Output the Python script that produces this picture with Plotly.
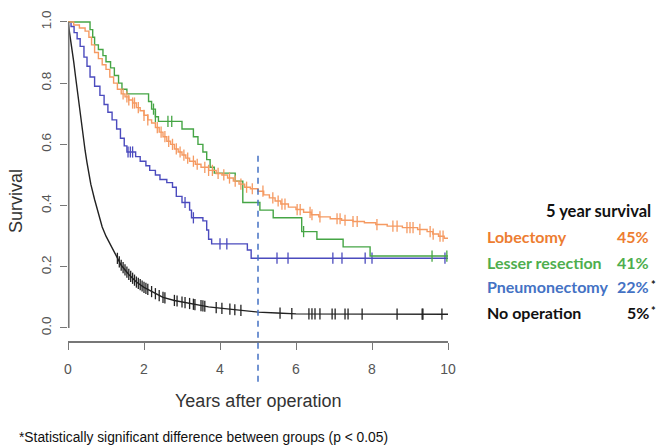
import numpy as np
import plotly.graph_objects as go

# ---------------- data ----------------
lob_t = [0, 0.15, 0.3, 0.45, 0.55, 0.62, 0.7, 0.8, 0.9, 1.0, 1.1, 1.2, 1.3, 1.4, 1.5, 1.6, 1.7, 1.8,
         1.9, 2.0, 2.1, 2.2, 2.3, 2.4, 2.5, 2.6, 2.7, 2.8, 2.9, 3.0, 3.1, 3.2, 3.35, 3.5, 3.7, 3.9,
         4.05, 4.2, 4.35, 4.5, 4.65, 4.8, 5.0, 5.15, 5.3, 5.45, 5.6, 5.8, 6.0, 6.2, 6.4, 6.6, 6.9,
         7.2, 7.5, 7.8, 8.1, 8.4, 8.8, 9.2, 9.45, 9.6, 9.75, 9.9]
lob_s = [1.0, 0.99, 0.98, 0.97, 0.95, 0.925, 0.90, 0.88, 0.86, 0.845, 0.82, 0.80, 0.78, 0.765,
         0.755, 0.745, 0.735, 0.72, 0.71, 0.695, 0.68, 0.67, 0.655, 0.64, 0.625, 0.61, 0.60, 0.585,
         0.575, 0.565, 0.555, 0.545, 0.535, 0.525, 0.515, 0.505, 0.50, 0.49, 0.48, 0.47, 0.46,
         0.455, 0.447, 0.435, 0.425, 0.415, 0.405, 0.395, 0.387, 0.378, 0.37, 0.363, 0.357, 0.352,
         0.348, 0.344, 0.338, 0.333, 0.328, 0.322, 0.315, 0.307, 0.30, 0.293]
lob_cens = [1.45, 1.55, 1.6, 1.7, 1.75, 1.85, 2.0, 2.1, 2.35, 2.45, 2.55, 2.65, 2.75, 2.85, 2.95,
            3.05, 3.15, 3.3, 3.4, 3.6, 3.7, 3.8, 3.95, 4.1, 4.25, 4.4, 4.55, 4.7, 4.85, 5.13, 5.39,
            5.53, 5.63, 5.71, 6.03, 6.11, 6.37, 6.42, 6.63, 7.08, 7.16, 7.29, 7.5, 7.61, 8.13,
            8.55, 8.66, 8.92, 9.0, 9.08, 9.26, 9.53, 9.61, 9.79, 9.87]

les_t = [0, 0.58, 0.65, 0.7, 0.8, 0.92, 1.0, 1.12, 1.22, 1.33, 1.42, 1.55, 2.12, 2.2, 2.3, 2.38,
         3.0, 3.3, 3.42, 3.55, 3.65, 3.74, 3.85, 4.4, 4.6, 5.05, 5.4, 6.15, 6.55, 7.24, 7.95]
les_s = [1.0, 0.975, 0.95, 0.925, 0.91, 0.89, 0.87, 0.85, 0.825, 0.80, 0.78, 0.765, 0.74, 0.715,
         0.69, 0.675, 0.65, 0.625, 0.60, 0.575, 0.55, 0.525, 0.506, 0.48, 0.41, 0.385, 0.36,
         0.315, 0.29, 0.265, 0.235]
les_cens = [2.25, 2.3, 2.63, 2.73, 6.2, 9.58, 9.97]

pne_t = [0, 0.08, 0.16, 0.24, 0.32, 0.42, 0.5, 0.58, 0.7, 0.84, 0.95, 1.05, 1.16, 1.28, 1.38,
         1.48, 1.55, 1.78, 1.9, 2.05, 2.15, 2.3, 2.42, 2.6, 2.75, 2.85, 3.0, 3.2, 3.25, 3.55,
         3.65, 3.7, 3.78, 4.72, 4.82]
pne_s = [1.0, 0.985, 0.965, 0.945, 0.92, 0.885, 0.855, 0.82, 0.79, 0.76, 0.73, 0.705, 0.68,
         0.65, 0.62, 0.595, 0.575, 0.56, 0.545, 0.53, 0.515, 0.50, 0.485, 0.475, 0.46, 0.43,
         0.41, 0.385, 0.36, 0.35, 0.32, 0.29, 0.275, 0.255, 0.228]
pne_cens = [1.58, 1.64, 1.7, 3.08, 3.3, 4.0, 4.18, 5.5, 5.79, 6.97, 7.21, 7.82, 8.0, 9.92]

non_t = [0, 0.05, 0.1, 0.15, 0.2, 0.25, 0.3, 0.35, 0.4, 0.45, 0.5, 0.55, 0.6, 0.7, 0.8, 0.9,
         1.0, 1.2, 1.4, 1.6, 1.8, 2.0, 2.3, 2.5, 2.8, 3.0, 3.4, 3.7, 4.0, 4.5, 5.0, 5.5, 6.0, 10.0]
non_s = [1.0, 0.96, 0.92, 0.87, 0.82, 0.77, 0.72, 0.67, 0.62, 0.58, 0.54, 0.50, 0.47, 0.42,
         0.37, 0.33, 0.30, 0.25, 0.205, 0.175, 0.15, 0.133, 0.112, 0.10, 0.09, 0.085, 0.075,
         0.069, 0.065, 0.058, 0.052, 0.049, 0.046, 0.045]
non_cens = [1.3, 1.35, 1.4, 1.45, 1.5, 1.55, 1.6, 1.65, 1.7, 1.75, 1.8, 1.85, 1.9, 1.95, 2.0,
            2.05, 2.1, 2.2, 2.3, 2.4, 2.5, 2.55, 2.8, 2.87, 3.0, 3.08, 3.2, 3.3, 3.34, 3.5,
            3.55, 3.6, 3.9, 4.05, 4.26, 4.39, 4.55, 5.58, 5.89, 6.34, 6.42, 6.5, 6.63, 6.95,
            7.03, 7.29, 7.37, 7.74, 8.66, 9.32, 9.34, 9.84]

x_ticks = [0, 2, 4, 6, 8, 10]
y_ticks = [0.0, 0.2, 0.4, 0.6, 0.8, 1.0]
y_tick_text = ["0.0", "0.2", "0.4", "0.6", "0.8", "1.0"]

legend_title = "5 year survival"
groups = ["Lobectomy", "Lesser resection", "Pneumonectomy", "No operation"]
five_year = ["45%", "41%", "22%", "5%"]
significant = [False, False, True, True]
mark_year = 5

# ---------------- styling ----------------
W, H = 659, 448
ML, MR, MT, MB = 68, 211, 10, 107
XR = [0, 10]
YR = [-0.0425, 1.039]
line_cols = ["#F59A62", "#45A545", "#4B4BBE", "#222222"]
text_cols = ["#ED7D31", "#4EAE4E", "#4472C4", "#111111"]


def px2paper(px):
    return (px - ML) / (W - ML - MR)


def py2paper(py):
    return (H - MB - py) / (H - MT - MB)


def yv2paper(v):
    return (v - YR[0]) / (YR[1] - YR[0])


def xv2paper(v):
    return (v - XR[0]) / (XR[1] - XR[0])


def step_at(ts, ss, c):
    i = int(np.searchsorted(np.array(ts), c, side="right")) - 1
    return ss[i]


fig = go.Figure()

series = [(lob_t, lob_s, lob_cens, "hv"), (les_t, les_s, les_cens, "hv"),
          (pne_t, pne_s, pne_cens, "hv"), (non_t, non_s, non_cens, "linear")]
order = [3, 2, 1, 0]
for k in order:
    ts, ss, cens, shape = series[k]
    if shape == "hv":
        xs = list(ts) + [XR[1]]
        ys = list(ss) + [ss[-1]]
        cy = [step_at(ts, ss, c) for c in cens]
    else:
        xs, ys = ts, ss
        cy = list(np.interp(cens, ts, ss))
    fig.add_trace(go.Scatter(x=xs, y=ys, mode="lines", line=dict(color=line_cols[k], width=1.4, shape=shape),
                             hoverinfo="skip", showlegend=False))
    fig.add_trace(go.Scatter(x=cens, y=cy, mode="markers",
                             marker=dict(symbol="line-ns", size=8, line=dict(color=line_cols[k], width=1.3)),
                             hoverinfo="skip", showlegend=False))

shapes = [
    # y axis line (only between 0 and 1, R style)
    dict(type="line", xref="paper", yref="paper", x0=0.002, x1=0.002, y0=yv2paper(0), y1=yv2paper(1),
         line=dict(color="#777777", width=1.6)),
    # dashed 5 year marker
    dict(type="line", xref="paper", yref="paper", x0=xv2paper(mark_year), x1=xv2paper(mark_year),
         y0=yv2paper(-0.176), y1=yv2paper(0.565), line=dict(color="#4472C4", width=1.5, dash="6px,5px")),
]


def txt(text, px, py, size, color, family="Lato", xanchor="center", angle=0):
    return dict(text=text, xref="paper", yref="paper", x=px2paper(px), y=py2paper(py), xanchor=xanchor,
                yanchor="middle", textangle=angle, showarrow=False,
                font=dict(family=family, size=size, color=color))


ann = [
    txt("Survival", 16, 201, 18, "#333333", family="Liberation Sans", angle=-90),
    txt("Years after operation", 258, 401, 18, "#333333", family="Liberation Sans"),
    txt("*Statistically significant difference between groups (p < 0.05)", 17, 437, 13.8, "#111111",
        family="Liberation Sans", xanchor="left"),
    txt("<b>" + legend_title + "</b>", 653, 211, 16.5, "#111111", xanchor="right"),
]
row_y = [237, 262, 286, 312]
for i, g in enumerate(groups):
    ann.append(txt("<b>" + g + "</b>", 485, row_y[i], 16, text_cols[i], xanchor="left"))
    ann.append(txt("<b>" + five_year[i] + "</b>", 651, row_y[i], 16, text_cols[i], xanchor="right"))
    if significant[i]:
        ann.append(txt("<b>*</b>", 649, row_y[i] - 2, 11, "#111111", xanchor="left"))

fig.update_layout(
    width=W, height=H, margin=dict(l=ML, r=MR, t=MT, b=MB, pad=0, autoexpand=False),
    paper_bgcolor="white", plot_bgcolor="white",
    shapes=shapes, annotations=ann,
    xaxis=dict(range=XR, tickvals=x_ticks, ticks="outside", ticklen=7, tickwidth=1.4, tickcolor="#777777",
               showline=True, linecolor="#777777", linewidth=1.6, showgrid=False, zeroline=False,
               ticklabelstandoff=7, automargin=False,
               tickfont=dict(family="Liberation Sans", size=14, color="#555555")),
    yaxis=dict(range=YR, tickvals=y_ticks, ticktext=y_tick_text, tickangle=-90, ticks="outside", ticklen=7,
               tickwidth=1.4, tickcolor="#777777", showline=False, showgrid=False, zeroline=False,
               ticklabelstandoff=4, automargin=False,
               tickfont=dict(family="Liberation Sans", size=13.5, color="#555555")),
)

fig.write_html("out.html", config={"displayModeBar": False},
               post_script="document.body.style.margin='0px';")
